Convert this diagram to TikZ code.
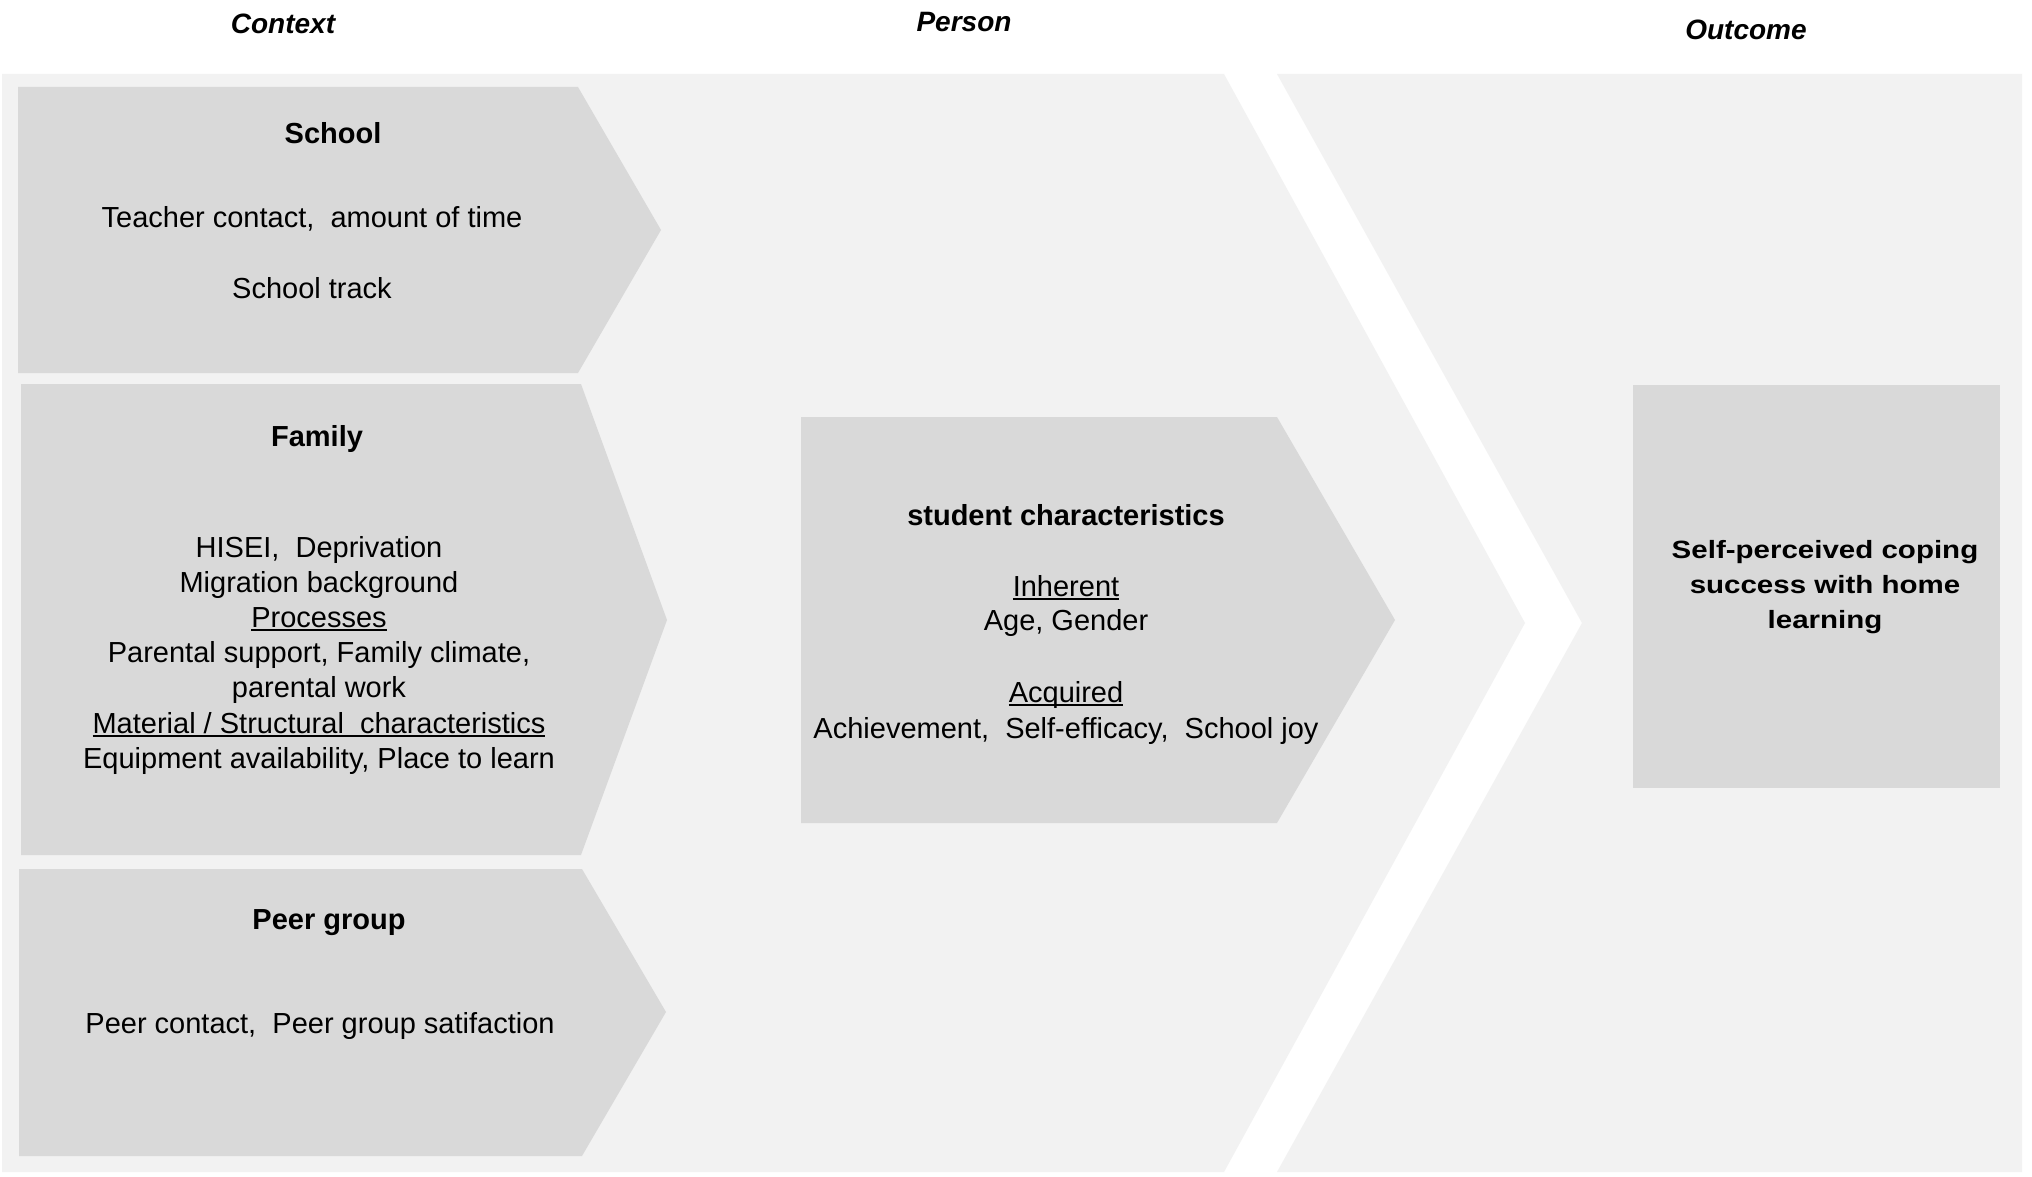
\documentclass[tikz,border=0pt]{standalone}
\usepackage{fontspec}
\setmainfont{Liberation Sans}
\usepackage{graphicx}
\definecolor{bgc}{HTML}{F2F2F2}
\definecolor{boxc}{HTML}{D9D9D9}
\newcommand\myul[1]{\setbox0\hbox{#1}\rlap{\rule[-3.5pt]{\wd0}{1.6pt}}\box0}
\begin{document}
\begin{tikzpicture}[x=1pt,y=-1pt,
  txt/.style={font=\fontsize{29}{35}\selectfont, anchor=base, inner sep=0pt},
  hd/.style={font=\fontsize{29}{35}\selectfont\bfseries, anchor=base, inner sep=0pt},
  ttl/.style={font=\fontsize{28}{34}\selectfont\bfseries\itshape, anchor=base, inner sep=0pt},
  outtxt/.style={font=\fontsize{25}{35}\selectfont\bfseries, anchor=base, inner sep=0pt},
  panel/.style={fill=bgc},
  boxshape/.style={fill=boxc}]
\useasboundingbox (0,0) rectangle (2032,1177);
\fill[white] (0,0) rectangle (2032,1177);
% background panels
\fill[panel] (2,74) -- (1224,74) -- (1525,623) -- (1224,1172) -- (2,1172) -- cycle;
\fill[panel] (1277,74) -- (2022,74) -- (2022,1172) -- (1277,1172) -- (1582,623) -- cycle;
% boxes
\fill[boxshape] (18,87) -- (578,87) -- (661,230) -- (578,373) -- (18,373) -- cycle;
\fill[boxshape] (21,384) -- (581,384) -- (667,620) -- (581,855) -- (21,855) -- cycle;
\fill[boxshape] (19,869) -- (582,869) -- (666,1012) -- (582,1156) -- (19,1156) -- cycle;
\fill[boxshape] (801,417) -- (1277,417) -- (1395,620) -- (1277,823) -- (801,823) -- cycle;
\fill[boxshape] (1633,385) rectangle (2000,788);
% titles
\node[ttl] (tctx) at (283,34) {Context};
\node[ttl] (tper) at (964,32) {Person};
\node[ttl] (tout) at (1746,40) {Outcome};
% school
\node[hd] (sch) at (333,144) {School};
\node[txt] (sch1) at (312,228) {Teacher contact,\ \ amount of time};
\node[txt] (sch2) at (312,298) {School track};
% family
\node[hd] (fam) at (317,446) {Family};
\node[txt] (fam1) at (319,557) {HISEI,\ \ Deprivation};
\node[txt] (fam2) at (319,592) {Migration background};
\node[txt] (fam3) at (319,627) {\myul{Processes}};
\node[txt] (fam4) at (319,662) {Parental support, Family climate,};
\node[txt] (fam5) at (319,697) {parental work};
\node[txt] (fam6) at (319,733) {\myul{Material / Structural\ \ characteristics}};
\node[txt] (fam7) at (319,768) {Equipment availability, Place to learn};
% peer
\node[hd] (peer) at (329,929) {Peer group};
\node[txt] (peer1) at (320,1033) {Peer contact,\ \ Peer group satifaction};
% student
\node[hd] (stu) at (1066,525) {student characteristics};
\node[txt] (stu1) at (1066,596) {\myul{Inherent}};
\node[txt] (stu2) at (1066,630) {Age, Gender};
\node[txt] (stu3) at (1066,702) {\myul{Acquired}};
\node[txt] (stu4) at (1066,738) {Achievement,\ \ Self-efficacy,\ \ School joy};
% outcome
\node[outtxt] (out1) at (1825,558) {\scalebox{1.18}[1]{Self-perceived coping}};
\node[outtxt] (out2) at (1825,593) {\scalebox{1.18}[1]{success with home}};
\node[outtxt] (out3) at (1825,628) {\scalebox{1.18}[1]{learning}};
\end{tikzpicture}
\end{document}
